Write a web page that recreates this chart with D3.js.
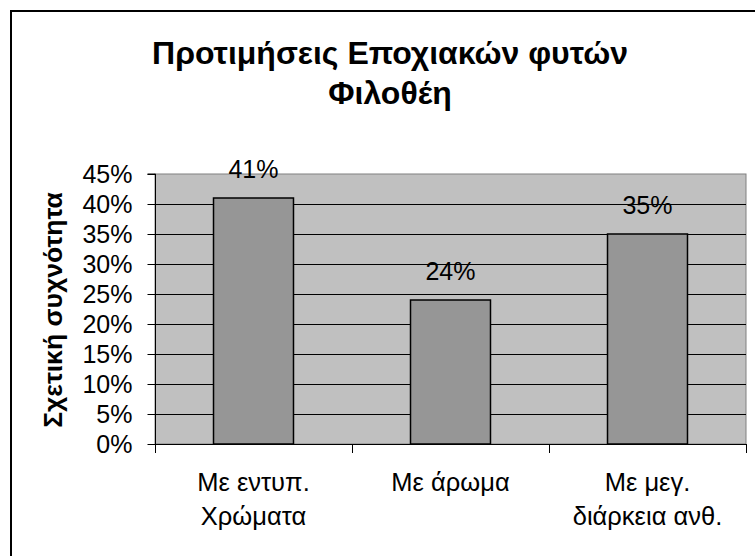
<!DOCTYPE html>
<html>
<head>
<meta charset="utf-8">
<script src="https://cdn.jsdelivr.net/npm/d3@7"></script>
<style>
  html, body { margin: 0; padding: 0; background: #fff; }
  svg { display: block; }
  text { font-family: "Liberation Sans", Arial, sans-serif; fill: #000; }
</style>
</head>
<body>
<svg id="chart" width="755" height="556"></svg>
<script>
// Chart data
const titleLines = ["Προτιμήσεις Εποχιακών φυτών", "Φιλοθέη"];
const yAxisTitle = "Σχετική συχνότητα";
const categories = [
  ["Με εντυπ.", "Χρώματα"],
  ["Με άρωμα"],
  ["Με μεγ.", "διάρκεια ανθ."]
];
const values = [0.41, 0.24, 0.35];
const yTicks = [0, 0.05, 0.10, 0.15, 0.20, 0.25, 0.30, 0.35, 0.40, 0.45];

const W = 755, H = 556;
const plot = { left: 155, right: 746, top: 174, bottom: 444 };

const svg = d3.select("#chart");

// Outer chart frame
svg.append("rect")
  .attr("x", 11).attr("y", 11)
  .attr("width", W).attr("height", H)
  .attr("fill", "#fff")
  .attr("stroke", "#000").attr("stroke-width", 2);

const x = d3.scaleBand()
  .domain(d3.range(categories.length))
  .range([plot.left, plot.right])
  .paddingInner(0.594)
  .paddingOuter(0.297);

const y = d3.scaleLinear()
  .domain([0, 0.45])
  .range([plot.bottom, plot.top]);

// Plot area background
svg.append("rect")
  .attr("x", plot.left).attr("y", plot.top)
  .attr("width", plot.right - plot.left)
  .attr("height", plot.bottom - plot.top)
  .attr("fill", "#c0c0c0")
  .attr("stroke", "#808080").attr("stroke-width", 1);

// Horizontal gridlines
svg.append("g")
  .selectAll("line")
  .data(yTicks.filter(t => t > 0 && t < 0.45))
  .join("line")
  .attr("x1", plot.left).attr("x2", plot.right)
  .attr("y1", d => Math.round(y(d)) + 0.5)
  .attr("y2", d => Math.round(y(d)) + 0.5)
  .attr("stroke", "#000").attr("stroke-width", 1);

// Bars
svg.append("g")
  .selectAll("rect")
  .data(values)
  .join("rect")
  .attr("x", (d, i) => x(i))
  .attr("y", d => y(d))
  .attr("width", x.bandwidth())
  .attr("height", d => y(0) - y(d))
  .attr("fill", "#969696")
  .attr("stroke", "#000").attr("stroke-width", 1.5);

// Value labels above bars
svg.append("g")
  .selectAll("text")
  .data(values)
  .join("text")
  .attr("x", (d, i) => x(i) + x.bandwidth() / 2)
  .attr("y", d => y(d) - 20)
  .attr("text-anchor", "middle")
  .attr("font-size", 25)
  .text(d => d3.format(".0%")(d));

// Y axis
const yAxis = d3.axisLeft(y)
  .tickValues(yTicks)
  .tickFormat(d3.format(".0%"))
  .tickSize(8)
  .tickPadding(15);
const gy = svg.append("g")
  .attr("transform", `translate(${plot.left + 0.5},0)`)
  .call(yAxis);
gy.select(".domain").attr("stroke", "#000").attr("d", `M-8,${plot.top}H0V${plot.bottom}`);
gy.selectAll(".tick text")
  .attr("font-size", 25)
  .attr("font-family", "Liberation Sans, Arial, sans-serif")
  .attr("fill", "#000");
gy.selectAll(".tick line").attr("stroke", "#000");

// X axis with ticks at category boundaries
const boundaries = d3.range(categories.length + 1)
  .map(i => plot.left + i * x.step());
const gx = svg.append("g");
gx.append("line")
  .attr("x1", plot.left).attr("x2", plot.right)
  .attr("y1", plot.bottom + 0.5).attr("y2", plot.bottom + 0.5)
  .attr("stroke", "#000");
gx.selectAll("line.tick")
  .data(boundaries)
  .join("line")
  .attr("class", "tick")
  .attr("x1", d => Math.round(d) + 0.5).attr("x2", d => Math.round(d) + 0.5)
  .attr("y1", plot.bottom).attr("y2", plot.bottom + 9)
  .attr("stroke", "#000");

// Category labels
const catG = svg.append("g");
categories.forEach((lines, i) => {
  const t = catG.append("text")
    .attr("text-anchor", "middle")
    .attr("font-size", 25.5)
    .attr("x", x(i) + x.bandwidth() / 2)
    .attr("y", 491);
  lines.forEach((ln, j) => {
    t.append("tspan")
      .attr("x", x(i) + x.bandwidth() / 2)
      .attr("y", 491 + j * 34)
      .text(ln);
  });
});

// Y axis title
svg.append("text")
  .attr("transform", "translate(62,310) rotate(-90)")
  .attr("text-anchor", "middle")
  .attr("font-size", 26.5)
  .attr("font-weight", "bold")
  .text(yAxisTitle);

// Chart title
svg.append("g")
  .selectAll("text")
  .data(titleLines)
  .join("text")
  .attr("x", 390)
  .attr("y", (d, i) => 64 + i * 40)
  .attr("text-anchor", "middle")
  .attr("font-size", 32)
  .attr("font-weight", "bold")
  .text(d => d);
</script>
</body>
</html>
